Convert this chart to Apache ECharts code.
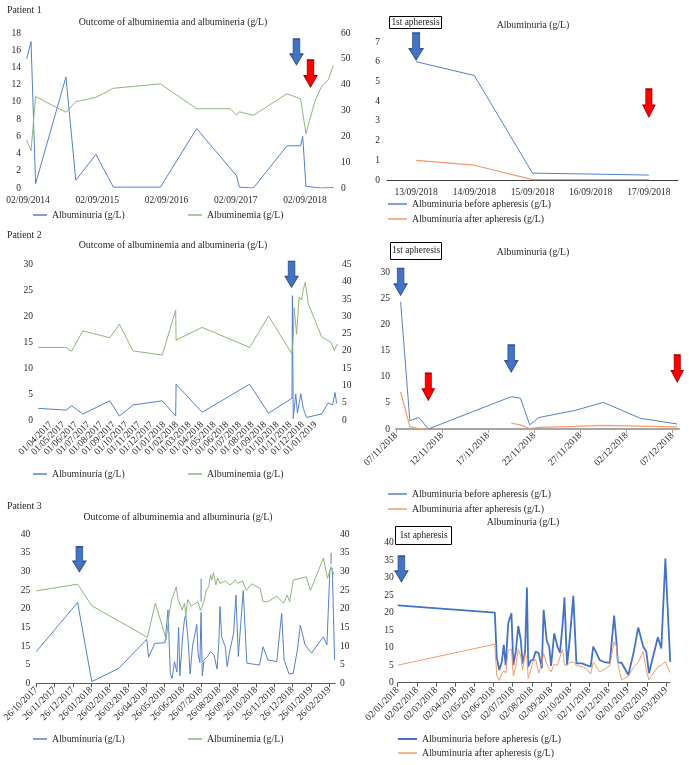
<!DOCTYPE html>
<html><head><meta charset="utf-8">
<script src="https://cdn.jsdelivr.net/npm/echarts@6/dist/echarts.min.js"></script>
<style>html,body{margin:0;padding:0;background:#fff}#c{width:689px;height:765px}</style>
</head><body><div id="c"></div>
<script>
// ================= DATA =================
// Patient 1 - left
const p1lTicks = ['02/09/2014','02/09/2015','02/09/2016','02/09/2017','02/09/2018'];
const p1lUriaDates = ['26/08/2014','18/09/2014','12/10/2014','21/03/2015','12/05/2015','26/08/2015','26/11/2015','01/08/2016','08/02/2017','07/09/2017','21/09/2017','04/12/2017','30/05/2018','10/08/2018','21/08/2018','30/08/2018','07/09/2018','29/11/2018','29/01/2019'];
const p1lUriaValues = [15.0,17.0,0.5,12.9,0.9,3.9,0.1,0.1,6.9,1.4,0.1,0.0,4.9,4.9,6.0,6.0,0.2,0.0,0.05];
const p1lEmiaDates = ['26/08/2014','18/09/2014','12/10/2014','21/03/2015','12/05/2015','26/08/2015','26/11/2015','01/08/2016','08/02/2017','03/08/2017','07/09/2017','21/09/2017','04/12/2017','30/05/2018','10/08/2018','07/09/2018','24/10/2018','29/11/2018','03/01/2019','29/01/2019'];
const p1lEmiaValues = [18.5,14.4,35.4,29.3,33.4,35.1,38.6,40.3,30.7,30.7,28.2,29.5,28.1,36.5,34.5,21.0,33.5,39.5,42.0,47.5];
const p1lArrowsBlue = [['19/07/2018',15.8]];
const p1lArrowsRed = [['01/10/2018',13.3]];

// Patient 1 - right
const p1rCategories = ['13/09/2018','14/09/2018','15/09/2018','16/09/2018','17/09/2018'];
const p1rBefore = [6.0,5.3,0.35,0.3,0.25];
const p1rAfter = [1.0,0.75,0.02,0.02,0.02];
const p1rArrowsBlue = [['13/09/2018',6.77]];
const p1rArrowsRed = [['17/09/2018',3.9]];

// Patient 2 - left
const p2lTicks = ['01/03/2017','01/04/2017','01/05/2017','01/06/2017','01/07/2017','01/08/2017','01/09/2017','01/10/2017','01/11/2017','01/12/2017','01/01/2018','01/02/2018','01/03/2018','01/04/2018','01/05/2018','01/06/2018','01/07/2018','01/08/2018','01/09/2018','01/10/2018','01/11/2018','01/12/2018','01/01/2019','01/02/2019'];
const p2lUriaDates = ['01/03/2017','07/05/2017','21/05/2017','17/06/2017','22/08/2017','14/09/2017','17/10/2017','27/12/2017','29/01/2018','30/01/2018','01/04/2018','25/07/2018','09/09/2018','05/11/2018','06/11/2018','08/11/2018','14/11/2018','18/11/2018','26/11/2018','02/12/2018','10/12/2018','16/01/2019','01/02/2019','12/02/2019','18/02/2019','22/02/2019'];
const p2lUriaValues = [2.25,1.9,2.75,1.15,3.7,0.77,2.9,3.7,0.77,6.9,1.5,6.9,1.3,4.2,24.0,0.3,5.0,1.3,5.1,2.25,0.5,1.15,3.3,2.9,5.3,3.2];
const p2lEmiaDates = ['01/03/2017','07/05/2017','21/05/2017','17/06/2017','22/08/2017','14/09/2017','17/10/2017','27/12/2017','29/01/2018','30/01/2018','01/04/2018','25/07/2018','09/09/2018','05/11/2018','08/11/2018','10/11/2018','16/11/2018','22/11/2018','28/11/2018','01/12/2018','07/12/2018','14/12/2018','16/01/2019','09/02/2019','16/02/2019','24/02/2019'];
const p2lEmiaValues = [21.0,21.0,19.9,25.8,23.8,27.7,20.0,18.8,31.8,23.1,26.8,21.0,30.1,19.1,24.1,32.5,24.8,35.6,34.7,37.3,39.9,33.7,24.1,22.4,20.1,22.0];
const p2lArrowsBlue = [['04/11/2018',28.1]];
const p2lArrowsRed = [['14/12/2018',30.8]];

// Patient 2 - right
const p2rTicks = ['07/11/2018','12/11/2018','17/11/2018','22/11/2018','27/11/2018','02/12/2018','07/12/2018'];
const p2rBeforeDates = ['07/11/2018','08/11/2018','09/11/2018','10/11/2018','19/11/2018','20/11/2018','21/11/2018','22/11/2018','26/11/2018','29/11/2018','03/12/2018','07/12/2018'];
const p2rBeforeValues = [24.4,1.6,2.2,0.0,6.2,5.9,0.8,2.2,3.6,5.1,2.05,0.96];
const p2rAfterDates = ['07/11/2018','08/11/2018','09/11/2018','10/11/2018','15/11/2018','19/11/2018','20/11/2018','21/11/2018','22/11/2018','26/11/2018','29/11/2018','03/12/2018','07/12/2018'];
const p2rAfterValues = [7.1,0.45,0.05,0.05,null,1.1,0.8,0.1,0.3,0.5,0.7,0.55,0.4];
const p2rArrowsBlue = [['07/11/2018',28.2],['19/11/2018',13.5]];
const p2rArrowsRed = [['10/11/2018',8.1],['07/12/2018',11.6]];

// Patient 3 - left
const p3lTicks = ['26/10/2017','26/11/2017','26/12/2017','26/01/2018','26/02/2018','26/03/2018','26/04/2018','26/05/2018','26/06/2018','26/07/2018','26/08/2018','26/09/2018','26/10/2018','26/11/2018','26/12/2018','26/01/2019','26/02/2019'];
const p3lLeftLabels = ['0','5','15','15','20','25','30','35','40'];
const p3lUriaDates = ['26/10/2017','03/01/2018','27/01/2018','12/03/2018','27/04/2018','30/04/2018','10/05/2018','27/05/2018','01/06/2018','05/06/2018','08/06/2018','12/06/2018','16/06/2018','19/06/2018','21/06/2018','26/06/2018','29/06/2018','01/07/2018','05/07/2018','08/07/2018','12/07/2018','19/07/2018','21/07/2018','24/07/2018','26/07/2018','28/07/2018','31/07/2018','06/08/2018','11/08/2018','17/08/2018','22/08/2018','25/08/2018','27/08/2018','30/08/2018','05/09/2018','08/09/2018','13/09/2018','19/09/2018','23/09/2018','27/09/2018','05/10/2018','11/10/2018','01/11/2018','07/11/2018','15/11/2018','30/11/2018','08/12/2018','12/12/2018','20/12/2018','27/12/2018','03/01/2019','08/01/2019','16/01/2019','27/01/2019','16/02/2019','22/02/2019','27/02/2019','03/03/2019','07/03/2019'];
const p3lUriaValues = [8.5,21.7,0.45,4.0,11.8,7.0,10.7,10.9,19.7,2.5,1.3,5.8,3.0,15.0,2.0,13.0,17.5,18.2,11.0,2.5,10.0,15.8,8.0,5.5,19.0,2.0,6.3,7.2,8.5,7.6,3.8,10.7,20.6,12.3,9.8,4.5,9.0,13.4,23.7,7.2,24.9,5.4,4.9,9.8,6.3,5.8,18.8,6.3,2.5,2.7,9.0,15.6,10.3,8.1,12.5,10.3,30.4,30.9,6.3];
const p3lUriaSegDates = ['26/07/2018','26/07/2018','01/08/2018','01/03/2019','01/03/2019'];
const p3lUriaSegValues = [28.1,21.9,null,35.0,32.0];
const p3lEmiaDates = ['26/10/2017','03/01/2018','27/01/2018','30/03/2018','28/04/2018','11/05/2018','29/05/2018','04/06/2018','08/06/2018','15/06/2018','18/06/2018','21/06/2018','25/06/2018','29/06/2018','01/07/2018','04/07/2018','10/07/2018','15/07/2018','21/07/2018','25/07/2018','30/07/2018','04/08/2018','08/08/2018','11/08/2018','13/08/2018','16/08/2018','20/08/2018','23/08/2018','27/08/2018','05/09/2018','13/09/2018','22/09/2018','26/09/2018','04/10/2018','10/10/2018','19/10/2018','02/11/2018','07/11/2018','15/11/2018','30/11/2018','11/12/2018','17/12/2018','21/12/2018','27/12/2018','18/01/2019','25/01/2019','16/02/2019','23/02/2019','01/03/2019','06/03/2019'];
const p3lEmiaValues = [24.8,26.6,20.8,15.0,12.3,21.5,11.8,19.7,22.8,25.9,22.4,22.8,19.7,21.5,18.3,22.5,20.7,21.3,21.9,19.5,21.5,25.0,25.9,29.1,27.7,29.7,26.4,28.2,26.8,27.5,26.4,27.7,26.8,27.5,24.9,26.7,25.5,21.9,21.9,23.4,21.5,23.7,21.9,27.7,28.6,24.9,33.6,28.2,31.3,29.1];
const p3lArrowsBlue = [['06/01/2018',33.3]];

// Patient 3 - right
const p3rTicks = ['02/01/2018','02/02/2018','02/03/2018','02/04/2018','02/05/2018','02/06/2018','02/07/2018','02/08/2018','02/09/2018','02/10/2018','02/11/2018','02/12/2018','02/01/2019','02/02/2019','02/03/2019'];
const p3rDates = ['02/01/2018','04/06/2018','07/06/2018','11/06/2018','15/06/2018','18/06/2018','21/06/2018','25/06/2018','30/06/2018','03/07/2018','07/07/2018','11/07/2018','15/07/2018','18/07/2018','22/07/2018','25/07/2018','27/07/2018','31/07/2018','04/08/2018','08/08/2018','13/08/2018','18/08/2018','21/08/2018','26/08/2018','30/08/2018','02/09/2018','07/09/2018','12/09/2018','16/09/2018','20/09/2018','23/09/2018','27/09/2018','01/10/2018','07/10/2018','12/10/2018','21/10/2018','28/10/2018','04/11/2018','08/11/2018','12/11/2018','18/11/2018','25/11/2018','04/12/2018','11/12/2018','15/12/2018','17/12/2018','23/12/2018','03/01/2019','12/01/2019','19/01/2019','27/01/2019','01/02/2019','05/02/2019','18/02/2019','23/02/2019','01/03/2019','04/03/2019','08/03/2019'];
const p3rBefore = [22.1,20.0,7.2,3.6,6.0,10.8,5.0,17.0,19.8,5.0,8.9,16.2,12.2,5.5,8.9,27.2,4.6,6.3,6.5,8.9,8.4,4.1,20.8,12.0,10.3,4.8,14.1,10.3,8.6,16.5,24.4,5.0,12.0,24.8,5.5,5.5,5.0,4.6,10.3,8.9,6.5,5.9,5.7,19.2,11.2,5.8,5.7,2.2,9.0,15.8,10.3,8.9,2.7,13.0,9.8,35.5,22.6,6.0];
const p3rAfter = [5.0,11.0,2.2,0.6,2.7,3.4,2.7,9.3,9.6,1.9,4.6,9.5,7.6,3.6,8.2,7.0,1.2,3.6,6.0,6.7,2.7,5.5,8.4,5.3,4.1,3.1,5.3,5.0,7.4,9.5,5.0,5.0,5.7,6.0,4.9,4.6,4.1,2.5,5.8,4.9,3.1,3.8,4.9,11.7,10.3,5.5,0.8,1.9,4.6,5.8,8.9,3.6,0.8,4.6,5.0,6.0,4.6,2.9];
const p3rArrowsBlue = [['08/01/2018',32.5]];

// ================= HELPERS =================
function ms(s){const p=s.split('/');return Date.UTC(+p[2],+p[1]-1,+p[0]);}
function pos(s,ticks,offDays){
  const t=ms(s)+(offDays||0)*864e5; const T=ticks.map(ms);
  let i=0; while(i<T.length-2 && t>=T[i+1]) i++;
  return i+(t-T[i])/(T[i+1]-T[i]);
}
function pts(dates,vals,ticks,off){return dates.map((d,i)=>[pos(d,ticks,off), vals[i]==null?'-':vals[i]]);}

// ================= STYLE / LAYOUT =================
const FF="'Liberation Serif','Times New Roman',serif";
const TXT='#231f20';
const BLUE='#5580c8', GREEN='#8db57d', ORANGE='#f29a6e', BLUE2='#4472c4';
const ARROW='path://M24,0 L76,0 L76,58 L100,58 L50,100 L0,58 L24,58 Z';
const G={
  p1l:{left:26,top:33,right:336,bottom:188,x0:28,ppu:69.25},
  p1r:{left:387,top:42,right:678,bottom:180},
  p2l:{left:37,top:264.5,right:339,bottom:420,x0:38.3,ppu:12.6},
  p2r:{left:396,top:272.5,right:679,bottom:429,x0:396,ppu:46.1},
  p3l:{left:36,top:534.3,right:335,bottom:683.3,x0:36,ppu:18.33},
  p3r:{left:397.7,top:542.7,right:670,bottom:682.7,x0:397.7,ppu:19.17}
};
function grid(g){return {left:g.left,top:g.top,width:g.right-g.left,height:g.bottom-g.top,containLabel:false};}
const lab={color:TXT,fontFamily:FF,fontSize:9.5};
function xVal(gi,g,ticks,o){
  const idx=ticks.map((_,i)=>i);
  return {type:'value',gridIndex:gi,min:(g.left-g.x0)/g.ppu,max:(g.right-g.x0)/g.ppu,
    axisLine:{show:!!o.line,onZero:false,lineStyle:{color:o.lineColor||'#404040',width:o.lineWidth||1}},
    axisTick:{show:!!o.line,customValues:idx,length:4,lineStyle:{color:o.lineColor||'#404040',width:1}},
    axisLabel:Object.assign({},lab,{customValues:idx,rotate:o.rotate||0,margin:o.margin,formatter:v=>ticks[Math.round(v)]||'' ,hideOverlap:false}),
    splitLine:{show:false}};
}
function yVal(gi,min,max,interval,pos_,margin,fmt){
  return {type:'value',gridIndex:gi,min,max,interval,position:pos_,
    axisLine:{show:false},axisTick:{show:false},splitLine:{show:false},
    axisLabel:Object.assign({},lab,{margin,formatter:fmt})};
}
function arrows(list,color,ticks,size,off){
  const fill=color==='b'?BLUE2:'#ff0000', bord=color==='b'?'#2f528f':'#a00000';
  return list.map(a=>({coord:[ticks?pos(a[0],ticks,off):a[0],a[1]],symbol:ARROW,symbolSize:size,symbolKeepAspect:false,
    itemStyle:{color:fill,borderColor:bord,borderWidth:1},label:{show:false}}));
}
function line(name,xi,yi,data,color,width,mp){
  const s={name,type:'line',xAxisIndex:xi,yAxisIndex:yi,data,showSymbol:false,symbol:'none',
    lineStyle:{color,width:width||1},itemStyle:{color},connectNulls:false,z:3,animation:false};
  if(mp) s.markPoint={silent:true,animation:false,data:mp};
  return s;
}
function txt(x,y,t,align,size){return {type:'text',x,y,silent:true,style:{text:t,fill:TXT,font:(size||9.8)+'px '+FF,align:align||'center',verticalAlign:'middle',textAlign:align||'center',textVerticalAlign:'middle'}};}
function box(x,y,w,h){return {type:'rect',silent:true,shape:{x,y,width:w,height:h},style:{fill:'#fff',stroke:'#000',lineWidth:1}};}
function leg(left,y,name,color,w,h){
  return {left,top:y-7,padding:0,itemWidth:w||14,itemHeight:h||1.5,icon:'rect',selectedMode:false,
    data:[{name,itemStyle:{color}}],textStyle:{color:TXT,fontFamily:FF,fontSize:9.8,lineHeight:14}};
}

// ================= OPTION =================
const option={
  animation:false,
  backgroundColor:'#fff',
  grid:[grid(G.p1l),grid(G.p1r),grid(G.p2l),grid(G.p2r),grid(G.p3l),grid(G.p3r)],
  xAxis:[
    xVal(0,G.p1l,p1lTicks,{margin:7}),
    {type:'category',gridIndex:1,data:p1rCategories,boundaryGap:true,
      axisLine:{lineStyle:{color:'#404040'}},axisTick:{length:4,lineStyle:{color:'#404040'}},
      axisLabel:Object.assign({},lab,{margin:7,interval:0}),splitLine:{show:false}},
    xVal(2,G.p2l,p2lTicks,{rotate:45,margin:3}),
    xVal(3,G.p2r,p2rTicks,{line:true,lineColor:'#a6a6a6',lineWidth:2,rotate:45,margin:5}),
    xVal(4,G.p3l,p3lTicks,{line:true,lineColor:'#595959',rotate:45,margin:5}),
    xVal(5,G.p3r,p3rTicks,{line:true,lineColor:'#595959',rotate:45,margin:6})
  ],
  yAxis:[
    yVal(0,0,18,2,'left',5),
    yVal(0,0,60,10,'right',5),
    yVal(1,0,7,1,'left',7),
    yVal(2,0,30,5,'left',4),
    yVal(2,0,45,5,'right',3),
    yVal(3,0,30,5,'left',6),
    yVal(4,0,40,5,'left',6,v=>p3lLeftLabels[Math.round(v/5)]),
    yVal(4,0,40,5,'right',5),
    yVal(5,0,40,5,'left',4)
  ],
  legend:[
    leg(33,215,'Albuminuria (g/L)',BLUE),
    leg(188,215,'Albuminemia (g/L)',GREEN),
    leg(388,204,'Albuminuria before apheresis (g/L)',BLUE,19),
    leg(388,219,'Albuminuria after apheresis (g/L)',ORANGE,19),
    leg(33,474,'Albuminuria (g/L)',BLUE),
    leg(188,474,'Albuminemia (g/L)',GREEN),
    leg(388,494,'Albuminuria before apheresis (g/L)',BLUE,19),
    leg(388,509,'Albuminuria after apheresis (g/L)',ORANGE,19),
    leg(33,739,'Albuminuria (g/L)',BLUE),
    leg(188,739,'Albuminemia (g/L)',GREEN),
    leg(398,739,'Albuminuria before apheresis (g/L)',BLUE2,19,2),
    leg(398,753,'Albuminuria after apheresis (g/L)',ORANGE,19)
  ],
  series:[
    line('Albuminuria (g/L)',0,0,pts(p1lUriaDates,p1lUriaValues,p1lTicks),BLUE,1,
      arrows(p1lArrowsBlue,'b',p1lTicks,[13,26]).concat(arrows(p1lArrowsRed,'r',p1lTicks,[13,27]))),
    line('Albuminemia (g/L)',0,1,pts(p1lEmiaDates,p1lEmiaValues,p1lTicks),GREEN,1),
    line('Albuminuria before apheresis (g/L)',1,2,p1rBefore,BLUE,1,
      arrows(p1rArrowsBlue,'b',null,[14,27]).concat(arrows(p1rArrowsRed,'r',null,[12,28]))),
    line('Albuminuria after apheresis (g/L)',1,2,p1rAfter,ORANGE,1.2),
    line('Albuminuria (g/L)',2,3,pts(p2lUriaDates,p2lUriaValues,p2lTicks),BLUE,1,
      arrows(p2lArrowsBlue,'b',p2lTicks,[13,26]).concat(arrows(p2lArrowsRed,'r',p2lTicks,[13,26]))),
    line('Albuminemia (g/L)',2,4,pts(p2lEmiaDates,p2lEmiaValues,p2lTicks),GREEN,1),
    line('Albuminuria before apheresis (g/L)',3,5,pts(p2rBeforeDates,p2rBeforeValues,p2rTicks,0.5),BLUE,1,
      arrows(p2rArrowsBlue,'b',p2rTicks,[13,27],0.5).concat(arrows(p2rArrowsRed,'r',p2rTicks,[12,27],0.5))),
    line('Albuminuria after apheresis (g/L)',3,5,pts(p2rAfterDates,p2rAfterValues,p2rTicks,0.5),ORANGE,1.2),
    line('Albuminuria (g/L)',4,6,pts(p3lUriaDates,p3lUriaValues,p3lTicks),BLUE,1,
      arrows(p3lArrowsBlue,'b',p3lTicks,[13,25])),
    line('Albuminuria (g/L)',4,6,pts(p3lUriaSegDates,p3lUriaSegValues,p3lTicks),BLUE,1),
    line('Albuminemia (g/L)',4,7,pts(p3lEmiaDates,p3lEmiaValues,p3lTicks),GREEN,1),
    line('Albuminuria before apheresis (g/L)',5,8,pts(p3rDates,p3rBefore,p3rTicks),BLUE2,1.8,
      arrows(p3rArrowsBlue,'b',p3rTicks,[13,26])),
    line('Albuminuria after apheresis (g/L)',5,8,pts(p3rDates,p3rAfter,p3rTicks),ORANGE,1)
  ],
  graphic:[
    txt(7,10,'Patient 1','left'),
    txt(173,22,'Outcome of albuminemia and albumineria (g/L)'),
    box(389.5,16.5,52,12), txt(415.5,22.5,'1st apheresis','center',9.4),
    txt(533,25,'Albuminuria (g/L)'),
    txt(7,235,'Patient 2','left'),
    txt(173,245,'Outcome of albuminemia and albumineria (g/L)'),
    box(390.5,242.5,51,17), txt(416,251,'1st apheresis','center',9.4),
    txt(533,252,'Albuminuria (g/L)'),
    txt(7,506,'Patient 3','left'),
    txt(178,517,'Outcome of albuminemia and albuminuria (g/L)'),
    box(395.5,526.5,56,18), txt(423.5,535.5,'1st apheresis','center',9.4),
    txt(523,522,'Albuminuria (g/L)')
  ]
};
const chart=echarts.init(document.getElementById('c'),null,{renderer:'canvas'});
chart.setOption(option);
</script></body></html>
